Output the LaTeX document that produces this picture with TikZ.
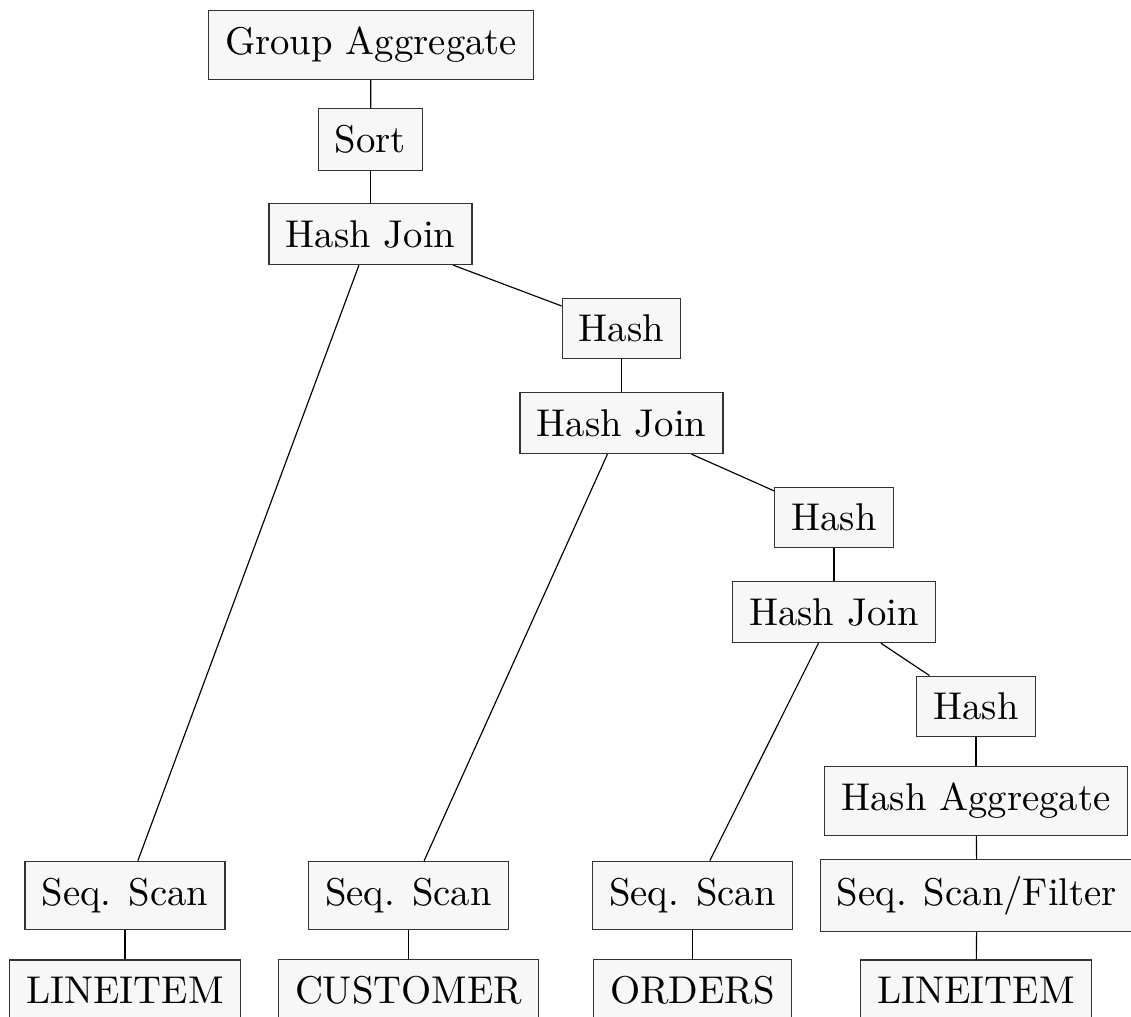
\documentclass[tikz,border=0pt]{standalone}
\usepackage{fontspec}
\begin{document}
\begin{tikzpicture}[
    x=0.2583pt, y=-0.2583pt,
    box/.style={draw=black!80, fill=black!3, line width=0.35pt,
                rectangle, inner sep=4.3pt},
    edge/.style={draw=black, line width=0.3pt}
  ]
  \useasboundingbox (0,0) rectangle (1131,1017);

  % plan operators, top to bottom
  \node[box] (ga)   at (371,45)      {Group Aggregate};
  \node[box] (sort) at (370.5,139.5) {Sort};
  \node[box] (hj1)  at (370.5,234)   {Hash Join};
  \node[box] (h1)   at (621.5,328.5) {Hash};
  \node[box] (hj2)  at (621.5,423)   {Hash Join};
  \node[box] (h2)   at (834,517.5)   {Hash};
  \node[box] (hj3)  at (834,612)     {Hash Join};
  \node[box] (h3)   at (976,706.5)   {Hash};
  \node[box] (hagg) at (976,801)     {Hash Aggregate};

  % scans
  \node[box] (ss1)  at (125,895.5)   {Seq. Scan};
  \node[box] (ss2)  at (408.5,895.5) {Seq. Scan};
  \node[box] (ss3)  at (692.5,895.5) {Seq. Scan};
  \node[box] (ssf)  at (977,895.5)   {Seq. Scan/Filter};

  % base tables
  \node[box] (t1) at (125,990)   {LINEITEM};
  \node[box] (t2) at (408.5,990) {CUSTOMER};
  \node[box] (t3) at (692.5,990) {ORDERS};
  \node[box] (t4) at (976,990)   {LINEITEM};

  % tree edges
  \path[edge] (ga) -- (sort);
  \path[edge] (sort) -- (hj1);
  \path[edge] (hj1) -- (ss1);
  \path[edge] (hj1) -- (h1);
  \path[edge] (h1) -- (hj2);
  \path[edge] (hj2) -- (ss2);
  \path[edge] (hj2) -- (h2);
  \path[edge] (h2) -- (hj3);
  \path[edge] (hj3) -- (ss3);
  \path[edge] (hj3) -- (h3);
  \path[edge] (h3) -- (hagg);
  \path[edge] (hagg) -- (ssf);
  \path[edge] (ss1) -- (t1);
  \path[edge] (ss2) -- (t2);
  \path[edge] (ss3) -- (t3);
  \path[edge] (ssf) -- (t4);
\end{tikzpicture}
\end{document}
